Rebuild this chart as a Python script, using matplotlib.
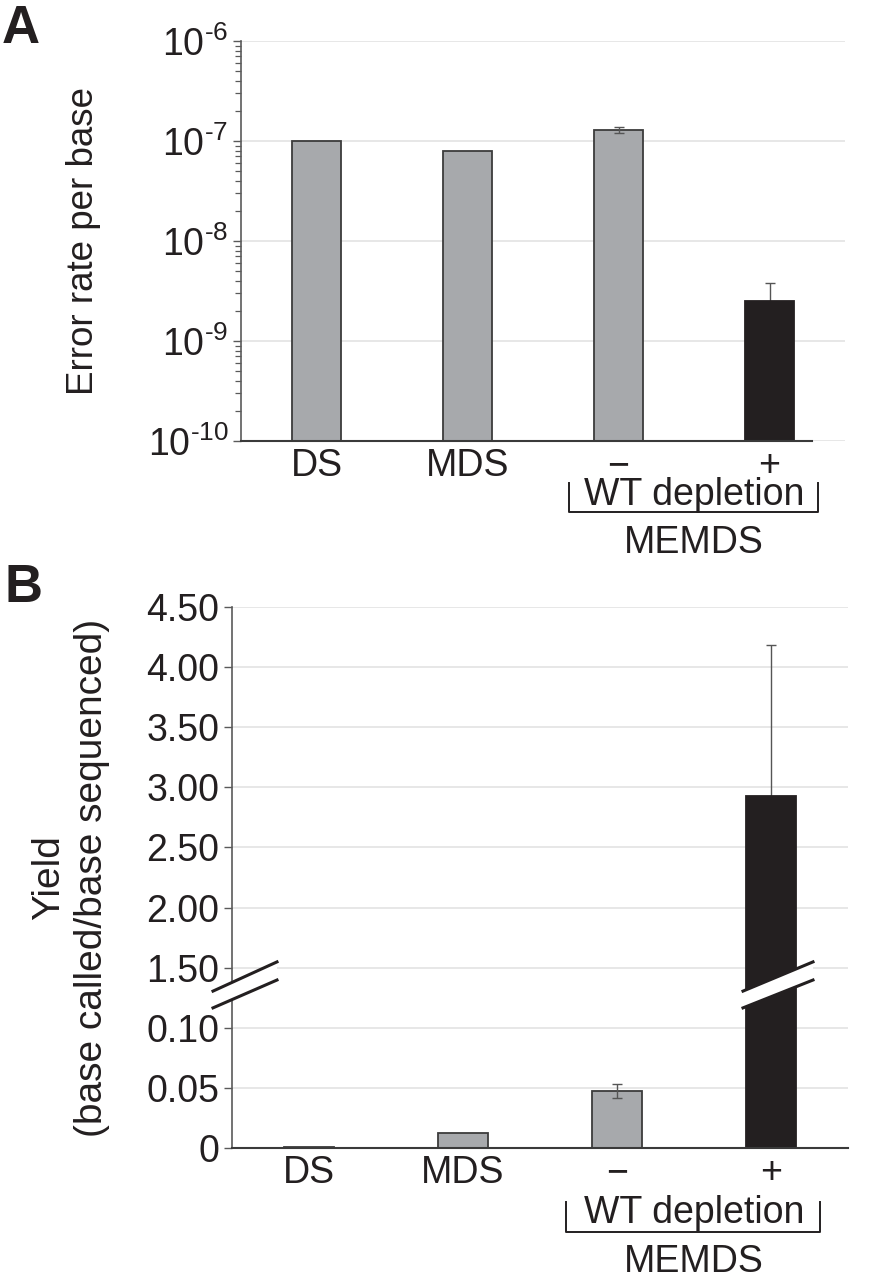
import numpy as np
import matplotlib
matplotlib.use('Agg')
import matplotlib.pyplot as plt
import matplotlib.transforms as mtransforms
from matplotlib.lines import Line2D
from matplotlib.patches import Polygon
from matplotlib.ticker import FixedLocator, FixedFormatter, LogLocator, NullFormatter

# ---------------- data ----------------
categories = ['DS', 'MDS', '\u2212', '+']
group_label = 'WT depletion'
group_name = 'MEMDS'

error_rate = [1.0e-7, 7.9e-8, 1.29e-7, 2.5e-9]
error_rate_err = [0.0, 0.0, 0.08e-7, 1.3e-9]

yield_vals = [0.0008, 0.0125, 0.0475, 2.93]
yield_err = [0.0, 0.0, 0.006, 1.25]

bar_colors = ['#a7a9ac', '#a7a9ac', '#a7a9ac', '#231f20']
edge_colors = ['#3c3c3c', '#3c3c3c', '#3c3c3c', '#231f20']

yticks_a = [1e-10, 1e-9, 1e-8, 1e-7, 1e-6]
yticklabels_a = ['10$^{\u2010\\mathregular{10}}$', '10$^{\u2010\\mathregular{9}}$',
                 '10$^{\u2010\\mathregular{8}}$', '10$^{\u2010\\mathregular{7}}$',
                 '10$^{\u2010\\mathregular{6}}$']
yticks_b = [0, 0.05, 0.10, 1.50, 2.00, 2.50, 3.00, 3.50, 4.00, 4.50]
yticklabels_b = ['0', '0.05', '0.10', '1.50', '2.00', '2.50', '3.00', '3.50', '4.00', '4.50']

# ---------------- style ----------------
TXT = '#231f20'
plt.rcParams['font.family'] = ['Liberation Sans', 'DejaVu Sans']
plt.rcParams['mathtext.fontset'] = 'custom'
plt.rcParams['mathtext.rm'] = 'Liberation Sans'
plt.rcParams['mathtext.it'] = 'Liberation Sans:italic'
plt.rcParams['mathtext.bf'] = 'Liberation Sans:bold'
plt.rcParams['mathtext.default'] = 'regular'
plt.rcParams['text.color'] = TXT

W, H = 876, 1280
fig = plt.figure(figsize=(W / 100, H / 100), dpi=100)

def px_axes(l, t, r, b):
    return fig.add_axes([l / W, 1 - b / H, (r - l) / W, (b - t) / H])

axA = px_axes(241, 41, 845, 441)
axB = px_axes(232, 607, 848, 1148)

x = np.arange(len(categories))
BW = 0.32
GRID = '#e3e3e3'
SPINE = '#5a5a5a'
XFS = 27

def common(ax, ylab_size):
    ax.set_axisbelow(True)
    for s in ['top', 'right']:
        ax.spines[s].set_visible(False)
    ax.spines['left'].set_color(SPINE)
    ax.spines['left'].set_linewidth(1.2)
    ax.spines['bottom'].set_color('#3a3a3a')
    ax.spines['bottom'].set_linewidth(1.5)
    ax.yaxis.grid(True, color=GRID, linewidth=1.2)
    ax.xaxis.grid(False)
    ax.set_xlim(-0.5, 3.5)
    ax.set_xticks(x)
    ax.set_xticklabels(categories, fontsize=XFS, color=TXT)
    ax.tick_params(axis='x', length=0, pad=5)
    ax.tick_params(axis='y', which='major', length=6, width=1.0, color=SPINE,
                   labelsize=ylab_size, labelcolor=TXT, pad=3)

def draw_errs(ax, vals, errs):
    front = [i for i in range(len(vals)) if errs[i] > 0 and bar_colors[i] != '#231f20']
    back = [i for i in range(len(vals)) if errs[i] > 0 and bar_colors[i] == '#231f20']
    for idx, z in [(front, 4), (back, 1.5)]:
        if idx:
            ax.errorbar(x[idx], [vals[i] for i in idx], yerr=[errs[i] for i in idx],
                        fmt='none', ecolor='#555555', elinewidth=1.0, capsize=3.5,
                        capthick=1.0, zorder=z)

# ---------------- panel A ----------------
axA.set_yscale('log')
axA.bar(x, error_rate, width=BW, color=bar_colors, edgecolor=edge_colors,
        linewidth=1.3, zorder=2)
draw_errs(axA, error_rate, error_rate_err)
axA.set_ylim(1e-10, 1e-6)
common(axA, 27)
axA.yaxis.set_major_locator(FixedLocator(yticks_a))
axA.yaxis.set_major_formatter(FixedFormatter(yticklabels_a))
axA.yaxis.set_minor_locator(LogLocator(base=10, subs=np.arange(2, 10), numticks=20))
axA.yaxis.set_minor_formatter(NullFormatter())
axA.tick_params(axis='y', which='minor', length=4, width=0.9, color=SPINE)
axA.spines['bottom'].set_bounds(-0.5, 3.28)
axA.set_ylabel('Error rate per base', fontsize=26.5, color=TXT)
axA.yaxis.set_label_coords(-0.232, 0.5)

# ---------------- panel B (broken axis) ----------------
def fwd(y):
    y = np.asarray(y, float)
    return np.where(y <= 0.1, y / 0.05,
                    np.where(y <= 1.5, 2 + (y - 0.1) / 1.4, 3 + (y - 1.5) / 0.5))

def inv(u):
    u = np.asarray(u, float)
    return np.where(u <= 2, u * 0.05,
                    np.where(u <= 3, 0.1 + (u - 2) * 1.4, 1.5 + (u - 3) * 0.5))

axB.set_yscale('function', functions=(fwd, inv))
axB.bar(x, yield_vals, width=BW, color=bar_colors, edgecolor=edge_colors,
        linewidth=1.3, zorder=2)
draw_errs(axB, yield_vals, yield_err)
axB.set_ylim(0, 4.5)
common(axB, 27)
axB.yaxis.set_major_locator(FixedLocator(yticks_b))
axB.yaxis.set_major_formatter(FixedFormatter(yticklabels_b))
axB.yaxis.set_minor_locator(FixedLocator([]))
axB.set_ylabel('Yield\n(base called/base sequenced)', fontsize=28, color=TXT,
               linespacing=1.25)
axB.yaxis.set_label_coords(-0.198, 0.5)

# break marks (axis and tall bar)
def break_mark(ax, trans, xc, half):
    y_up = (0.290, 0.344)
    y_lo = (0.259, 0.3105)
    poly = Polygon([(xc - half, y_up[0]), (xc + half, y_up[1]),
                    (xc + half, y_lo[1]), (xc - half, y_lo[0])],
                   closed=True, facecolor='white', edgecolor='none',
                   transform=trans, clip_on=False, zorder=6)
    ax.add_patch(poly)
    for ys in (y_up, y_lo):
        ax.add_line(Line2D([xc - half, xc + half], ys, color=TXT, linewidth=2.2,
                           transform=trans, clip_on=False, zorder=7))

blendB = mtransforms.blended_transform_factory(axB.transData, axB.transAxes)
break_mark(axB, blendB, -0.5 + 13 / 154, 32 / 154)
break_mark(axB, blendB, 3 + 7 / 154, 35 / 154)

# ---------------- group labels + bracket ----------------
def group(ax, y_br_top, y_br_bot, y_lab, y_name):
    tr = mtransforms.blended_transform_factory(ax.transData, ax.transAxes)
    xl, xr = 1.67, 3.32
    ax.add_line(Line2D([xl, xl, xr, xr], [y_br_top, y_br_bot, y_br_bot, y_br_top],
                       color=TXT, linewidth=1.4, transform=tr, clip_on=False))
    ax.text(2.5, y_lab, group_label, transform=tr, ha='center', va='baseline',
            fontsize=XFS, color=TXT)
    ax.text(2.5, y_name, group_name, transform=tr, ha='center', va='baseline',
            fontsize=XFS, color=TXT)

group(axA, -42 / 400, -71 / 400, -(505 - 441) / 400, -(553 - 441) / 400)
group(axB, -54 / 541, -84 / 541, -(1223 - 1148) / 541, -(1272 - 1148) / 541)

fig.text(2 / W, 1 - 4 / H, 'A', fontsize=38, fontweight='bold', va='top', ha='left')
fig.text(4 / W, 1 - 563 / H, 'B', fontsize=38, fontweight='bold', va='top', ha='left')

fig.savefig('out.png', dpi=100, facecolor='white')
